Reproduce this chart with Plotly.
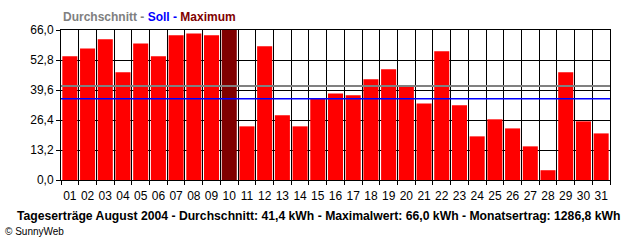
import plotly.graph_objects as go

days = [f"{d:02d}" for d in range(1, 32)]
values = [54.4, 57.9, 61.9, 47.4, 60.1, 54.4, 63.7, 64.5, 63.7, 66.0,
          23.6, 58.8, 28.5, 23.6, 35.8, 38.1, 37.3, 44.3, 48.7, 41.1,
          33.7, 56.6, 32.9, 19.2, 26.7, 22.7, 14.8, 4.3, 47.4, 25.8, 20.5]
average = 41.4
soll = 35.8
y_ticks = [0, 13.2, 26.4, 39.6, 52.8, 66.0]
title_text = ("Tageserträge August 2004 - Durchschnitt: 41,4 kWh - "
              "Maximalwert: 66,0 kWh - Monatsertrag: 1286,8 kWh")

vmax = max(values)
colors = ["#800000" if v == vmax else "#FF0000" for v in values]

fig = go.Figure(go.Bar(x=days, y=values, marker=dict(color=colors, line=dict(width=0)),
                       hoverinfo="x+y"))

font = "Arial, Liberation Sans, sans-serif"
fig.update_layout(
    width=640, height=240,
    margin=dict(l=61, r=30, t=30, b=60),
    paper_bgcolor="white", plot_bgcolor="white",
    separators=",.",
    bargap=0.15,
    showlegend=False,
    font=dict(family=font, size=11, color="black"),
)
fig.update_xaxes(type="category", tickson="boundaries", showgrid=True, gridcolor="black",
                 gridwidth=1, ticks="outside", ticklen=4, tickcolor="black",
                 showline=True, linecolor="black", linewidth=1, mirror=True,
                 tickangle=0, tickfont=dict(size=12), ticklabelstandoff=5,
                 range=[-0.5, 30.5])
fig.update_yaxes(range=[0, 66], tickvals=y_ticks, tickformat=".1f", showgrid=True,
                 gridcolor="black", gridwidth=1, ticks="outside", ticklen=4,
                 tickcolor="black", showline=True, linecolor="black", linewidth=1,
                 zeroline=False, tickfont=dict(size=12), mirror=True)

fig.add_shape(type="line", xref="paper", yref="y", x0=0, x1=1, y0=average, y1=average,
              line=dict(color="#808080", width=2), layer="above")
fig.add_shape(type="line", xref="paper", yref="y", x0=0, x1=1, y0=soll, y1=soll,
              line=dict(color="#0000FF", width=1.5), layer="above")

fig.add_annotation(xref="paper", yref="paper", x=0, y=1, yshift=4, xanchor="left",
                   yanchor="bottom", showarrow=False,
                   text=("<b><span style='color:#808080'>Durchschnitt - </span>"
                         "<span style='color:#0000FF'>Soll - </span>"
                         "<span style='color:#800000'>Maximum</span></b>"),
                   font=dict(size=12, family=font))
fig.add_annotation(xref="paper", yref="paper", x=0.5, y=0, yshift=-36, xanchor="center",
                   yanchor="middle", showarrow=False, text=f"<b>{title_text}</b>",
                   xshift=-17, font=dict(size=12.2, family=font))
fig.add_annotation(xref="paper", yref="paper", x=-61/549, y=0, yshift=-51, xanchor="left",
                   yanchor="middle", showarrow=False, text="© SunnyWeb",
                   xshift=3, font=dict(size=10, family=font))

fig.write_html("out.html")
